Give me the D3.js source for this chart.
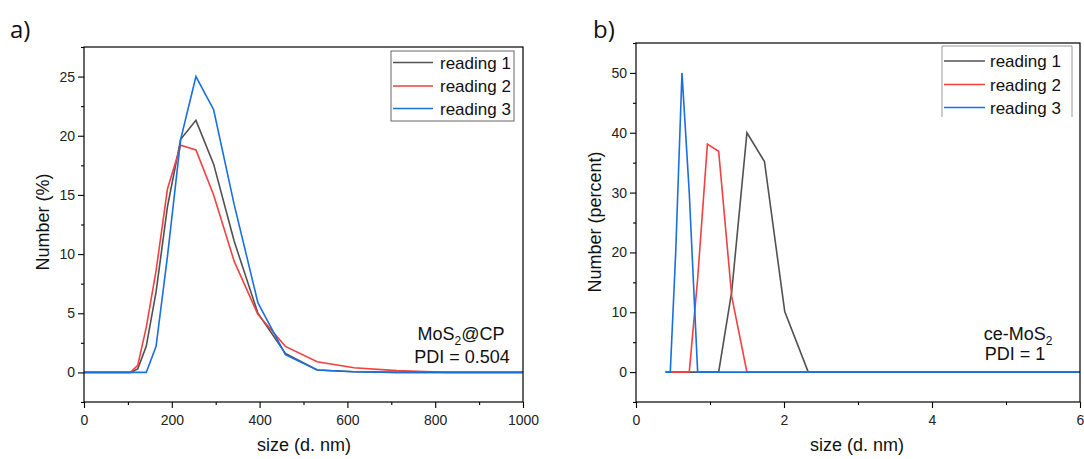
<!DOCTYPE html>
<html>
<head>
<meta charset="utf-8">
<script src="https://cdn.jsdelivr.net/npm/d3@7"></script>
<style>
  html, body { margin: 0; padding: 0; background: #fff; }
  svg { display: block; }
</style>
</head>
<body>
<div id="chart"></div>
<script>
// DLS size bins (nm) and number distributions
const sizesA = [0.4, 105.7, 122.4, 141.8, 164.2, 190.1, 220.2, 255.0, 295.3, 342.0, 396.1, 458.7, 531.2, 615.1, 712.4, 825.0, 955.4, 1106];
const reading1A = [0, 0, 0.3, 2.2, 6.8, 14.0, 19.7, 21.3, 17.6, 11.1, 5.0, 1.6, 0.2, 0.05, 0, 0, 0, 0];
const reading2A = [0, 0, 0.6, 3.8, 8.6, 15.5, 19.2, 18.8, 15.0, 9.4, 4.9, 2.2, 0.9, 0.4, 0.15, 0, 0, 0];
const reading3A = [0, 0, 0, 0, 2.2, 9.8, 19.7, 25.0, 22.2, 14.2, 5.9, 1.5, 0.2, 0.05, 0, 0, 0, 0];

const sizesB = [0.4, 0.4632, 0.5365, 0.6213, 0.7195, 0.8332, 0.9649, 1.117, 1.294, 1.499, 1.736, 2.010, 2.328, 2.696, 3.122, 3.615, 4.187, 4.849, 5.615, 6.503];
const reading1B = [0, 0, 0, 0, 0, 0, 0, 0, 13.5, 40.0, 35.2, 10.1, 0, 0, 0, 0, 0, 0, 0, 0];
const reading2B = [0, 0, 0, 0, 0, 15.6, 38.1, 36.9, 12.6, 0, 0, 0, 0, 0, 0, 0, 0, 0, 0, 0];
const reading3B = [0, 0, 20.0, 50.0, 30.0, 0, 0, 0, 0, 0, 0, 0, 0, 0, 0, 0, 0, 0, 0, 0];

const seriesNames = ["reading 1", "reading 2", "reading 3"];
const seriesColors = ["#515151", "#F14040", "#1A6FDF"];

const xTicksA = [0, 200, 400, 600, 800, 1000];
const xMinorA = [100, 300, 500, 700, 900];
const yTicksA = [0, 5, 10, 15, 20, 25];
const yMinorA = [-2.5, 2.5, 7.5, 12.5, 17.5, 22.5, 27.5];

const xTicksB = [0, 2, 4, 6];
const xMinorB = [1, 3, 5];
const yTicksB = [0, 10, 20, 30, 40, 50];
const yMinorB = [-5, 5, 15, 25, 35, 45, 55];

const font = "'Liberation Sans', Arial, sans-serif";

const svg = d3.select("#chart").append("svg")
    .attr("width", 1084)
    .attr("height", 459)
    .attr("viewBox", [0, 0, 1084, 459]);

function drawPanel(p) {
    const { id, left, right, top, bottom, xDomain, yDomain, sizes, readings,
            xTicks, xMinor, yTicks, yMinor } = p;

    const x = d3.scaleLinear().domain(xDomain).range([left, right]);
    const y = d3.scaleLinear().domain(yDomain).range([bottom, top]);

    const g = svg.append("g").attr("class", "panel-" + id);

    g.append("clipPath")
        .attr("id", "clip-" + id)
        .append("rect")
        .attr("x", left).attr("y", top)
        .attr("width", right - left).attr("height", bottom - top);

    // axes
    const xAxis = g.append("g")
        .attr("transform", `translate(0,${bottom})`)
        .call(d3.axisBottom(x).tickValues(xTicks).tickSize(6).tickPadding(7).tickFormat(d3.format("d")));
    g.append("g")
        .attr("transform", `translate(0,${bottom})`)
        .call(d3.axisBottom(x).tickValues(xMinor).tickSize(3).tickFormat(""));
    const yAxis = g.append("g")
        .attr("transform", `translate(${left},0)`)
        .call(d3.axisLeft(y).tickValues(yTicks).tickSize(6).tickPadding(3).tickFormat(d3.format("d")));
    g.append("g")
        .attr("transform", `translate(${left},0)`)
        .call(d3.axisLeft(y).tickValues(yMinor).tickSize(3).tickFormat(""));

    g.selectAll(".domain").remove();
    g.selectAll(".tick line").attr("stroke", "#000").attr("stroke-width", 1.1);
    g.selectAll(".tick text")
        .attr("fill", "#222")
        .style("font-family", font)
        .style("font-size", "14px");

    // lines
    const line = d3.line()
        .x((d, i) => x(sizes[i]))
        .y(d => y(d));

    g.append("g")
        .attr("clip-path", `url(#clip-${id})`)
        .selectAll("path")
        .data(readings)
        .enter()
        .append("path")
        .attr("d", d => line(d))
        .attr("fill", "none")
        .attr("stroke", (d, i) => seriesColors[i])
        .attr("stroke-width", 1.6)
        .attr("stroke-linejoin", "miter");

    // frame
    g.append("rect")
        .attr("x", left).attr("y", top)
        .attr("width", right - left).attr("height", bottom - top)
        .attr("fill", "none")
        .attr("stroke", "#000")
        .attr("stroke-width", 1.2);

    return { x, y, g };
}

function drawLegend(g, lg) {
    const { x0, x1, top, bottom, lineX0, lineX1, textX, rows, border, openBottom } = lg;
    if (openBottom) {
        g.append("path")
            .attr("d", `M${x0},${bottom}V${top}H${x1}V${bottom}`)
            .attr("fill", "#fff")
            .attr("stroke", border)
            .attr("stroke-width", 1);
    } else {
        g.append("rect")
            .attr("x", x0).attr("y", top)
            .attr("width", x1 - x0).attr("height", bottom - top)
            .attr("fill", "#fff")
            .attr("stroke", border)
            .attr("stroke-width", 1);
    }
    const item = g.selectAll(".legend-item")
        .data(seriesNames)
        .enter()
        .append("g");
    item.append("line")
        .attr("x1", lineX0).attr("x2", lineX1)
        .attr("y1", (d, i) => rows[i]).attr("y2", (d, i) => rows[i])
        .attr("stroke", (d, i) => seriesColors[i])
        .attr("stroke-width", 1.6);
    item.append("text")
        .attr("x", textX)
        .attr("y", (d, i) => rows[i])
        .attr("dy", "0.36em")
        .attr("fill", "#111")
        .style("font-family", font)
        .style("font-size", "17px")
        .text(d => d);
}

function subText(g, cx, cy, before, sub, after) {
    const t = g.append("text")
        .attr("x", cx).attr("y", cy)
        .attr("text-anchor", "middle")
        .attr("fill", "#111")
        .style("font-family", font)
        .style("font-size", "18px");
    t.append("tspan").text(before);
    t.append("tspan").attr("dy", 5).style("font-size", "12px").text(sub);
    t.append("tspan").attr("dy", -5).text(after);
    return t;
}

function plainText(g, cx, cy, txt, size, anchor, fam) {
    return g.append("text")
        .attr("x", cx).attr("y", cy)
        .attr("text-anchor", anchor || "middle")
        .attr("fill", "#111")
        .style("font-family", fam || font)
        .style("font-size", size + "px")
        .text(txt);
}

// ---- panel a
const a = drawPanel({
    id: "a", left: 84, right: 523, top: 47, bottom: 402,
    xDomain: [0, 1000], yDomain: [-2.5, 27.5],
    sizes: sizesA, readings: [reading1A, reading2A, reading3A],
    xTicks: xTicksA, xMinor: xMinorA, yTicks: yTicksA, yMinor: yMinorA
});
drawLegend(a.g, { x0: 391, x1: 514, top: 51, bottom: 121, lineX0: 393, lineX1: 433, textX: 440,
                  rows: [62.5, 86, 108.5], border: "#666", openBottom: false });
subText(a.g, 461, 340, "MoS", "2", "@CP");
plainText(a.g, 462, 363, "PDI = 0.504", 18);
plainText(a.g, 304, 451, "size (d. nm)", 18);
plainText(a.g, 0, 0, "Number (%)", 18)
    .attr("transform", "translate(49,222) rotate(-90)");
plainText(a.g, 10, 38, "a)", 24, "start", "'Open Sans', sans-serif");

// ---- panel b
const b = drawPanel({
    id: "b", left: 636, right: 1080, top: 43, bottom: 402,
    xDomain: [0, 6], yDomain: [-5, 55],
    sizes: sizesB, readings: [reading1B, reading2B, reading3B],
    xTicks: xTicksB, xMinor: xMinorB, yTicks: yTicksB, yMinor: yMinorB
});
drawLegend(b.g, { x0: 942, x1: 1072, top: 46, bottom: 117, lineX0: 944, lineX1: 985, textX: 990,
                  rows: [61, 84.5, 107.5], border: "#999", openBottom: true });
subText(b.g, 1018, 340, "ce-MoS", "2", "");
plainText(b.g, 1015, 360, "PDI = 1", 18);
plainText(b.g, 857, 451, "size (d. nm)", 18);
plainText(b.g, 0, 0, "Number (percent)", 18)
    .attr("transform", "translate(601,222) rotate(-90)");
plainText(b.g, 593, 38, "b)", 24, "start", "'Open Sans', sans-serif");
</script>
</body>
</html>
